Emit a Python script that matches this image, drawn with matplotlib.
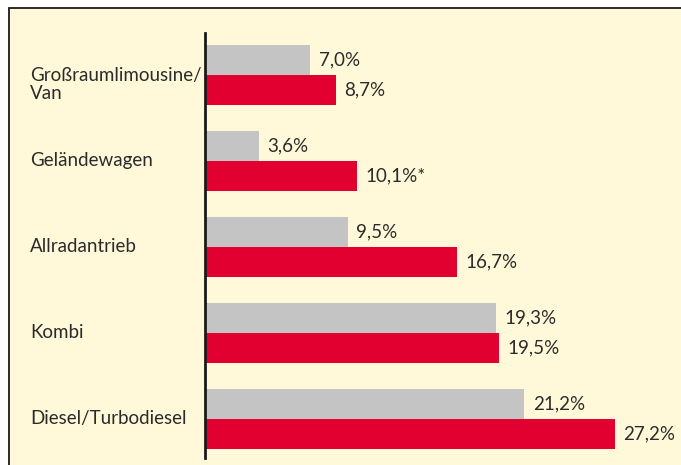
import matplotlib
matplotlib.use("Agg")
import matplotlib.pyplot as plt
from matplotlib.patches import Rectangle

categories = ["Großraumlimousine/\nVan", "Geländewagen", "Allradantrieb", "Kombi", "Diesel/Turbodiesel"]
grey_vals = [7.0, 3.6, 9.5, 19.3, 21.2]
red_vals = [8.7, 10.1, 16.7, 19.5, 27.2]
grey_labels = ["7,0%", "3,6%", "9,5%", "19,3%", "21,2%"]
red_labels = ["8,7%", "10,1%*", "16,7%", "19,5%", "27,2%"]

plt.rcParams['font.family'] = ['Lato', 'DejaVu Sans']

W, H = 681, 465
fig = plt.figure(figsize=(W / 100, H / 100), dpi=100)
fig.patch.set_facecolor('white')

# yellow panel, only top and left border visible
fig.patches.append(Rectangle((9 / W, -0.1), 1.2, 1.1 - 8 / H, transform=fig.transFigure,
                             facecolor='#fff9d9', edgecolor='#1a1a1a', lw=1.3, zorder=-1))

ax = fig.add_axes([205 / W, 7 / H, 476 / W, 425 / H])
ax.set_facecolor('none')
ax.set_zorder(1)

bh = 0.349
ys = range(len(categories))
ax.barh([y - bh / 2 for y in ys], grey_vals, height=bh, color='#c4c4c4', zorder=2)
ax.barh([y + bh / 2 for y in ys], red_vals, height=bh, color='#e10030', zorder=2)

txt = '#2b2b2b'
fs = 13.5
for y, v, s in zip(ys, grey_vals, grey_labels):
    ax.annotate(s, (v, y - bh / 2), xytext=(6, 0), textcoords='offset points',
                va='center', ha='left', fontsize=fs, color=txt, annotation_clip=False)
for y, v, s in zip(ys, red_vals, red_labels):
    ax.annotate(s, (v, y + bh / 2), xytext=(6, 0), textcoords='offset points',
                va='center', ha='left', fontsize=fs, color=txt, annotation_clip=False)
for y, c in zip(ys, categories):
    shift = 0.116 * c.count('\n')
    ax.text(-0.3676, y + shift, c, transform=ax.get_yaxis_transform(), va='center', ha='left',
            fontsize=fs, color=txt, linespacing=1.05)

ax.set_xlim(0, 476 / 15.07)
ax.set_ylim(4 + 0.459, -0.483)
for s in ['top', 'right', 'bottom']:
    ax.spines[s].set_visible(False)
ax.spines['left'].set_linewidth(2)
ax.spines['left'].set_color('#1a1a1a')
ax.spines['left'].set_zorder(3)
ax.set_xticks([])
ax.set_yticks([])

fig.savefig('out.png', dpi=100)
